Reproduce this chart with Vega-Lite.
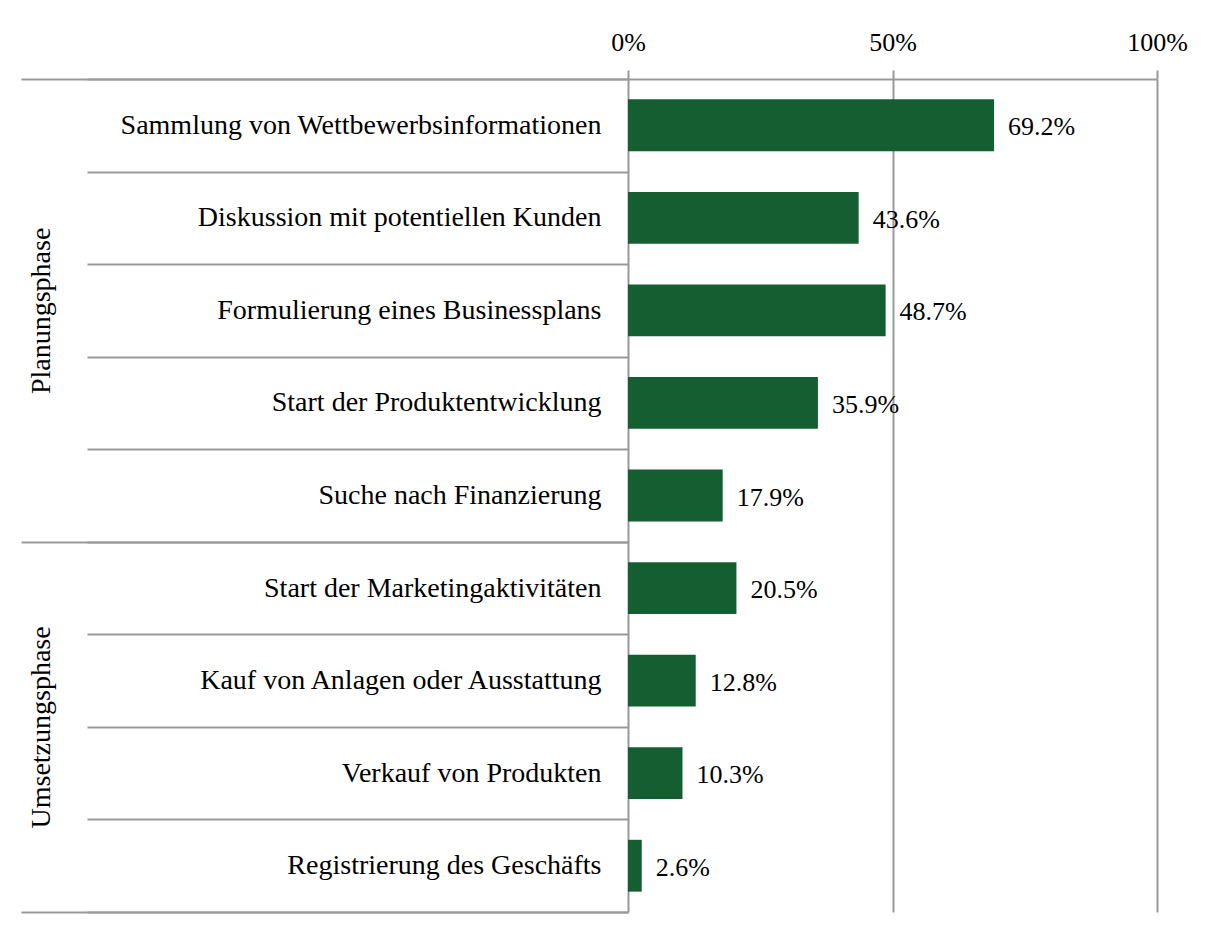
{
  "$schema": "https://vega.github.io/schema/vega-lite/v6.json",
  "width": 529,
  "height": 833,
  "autosize": {"type": "none"},
  "padding": {"left": 628, "top": 79, "right": 57, "bottom": 24},
  "background": "white",
  "config": {"view": {"stroke": null}, "font": "Liberation Serif"},
  "layer": [
    {
      "data": {
        "values": [
          {"item": "Sammlung von Wettbewerbsinformationen", "group": "Planungsphase", "value": 0.692},
          {"item": "Diskussion mit potentiellen Kunden", "group": "Planungsphase", "value": 0.436},
          {"item": "Formulierung eines Businessplans", "group": "Planungsphase", "value": 0.487},
          {"item": "Start der Produktentwicklung", "group": "Planungsphase", "value": 0.359},
          {"item": "Suche nach Finanzierung", "group": "Planungsphase", "value": 0.179},
          {"item": "Start der Marketingaktivitäten", "group": "Umsetzungsphase", "value": 0.205},
          {"item": "Kauf von Anlagen oder Ausstattung", "group": "Umsetzungsphase", "value": 0.128},
          {"item": "Verkauf von Produkten", "group": "Umsetzungsphase", "value": 0.103},
          {"item": "Registrierung des Geschäfts", "group": "Umsetzungsphase", "value": 0.026}
        ]
      },
      "layer": [
        {
          "mark": {"type": "bar", "height": {"band": 0.56}, "color": "#145e32"},
          "encoding": {
            "y": {
              "field": "item", "type": "nominal", "sort": null,
              "scale": {"paddingInner": 0, "paddingOuter": 0},
              "axis": {
                "title": null, "orient": "left", "domain": false, "grid": false,
                "ticks": true, "tickBand": "extent", "tickSize": 541,
                "tickColor": "#999999", "tickWidth": 2,
                "labelPadding": -514, "labelFontSize": 28, "labelFont": "Liberation Serif",
                "labelColor": "black", "labelLimit": 0
              }
            },
            "x": {
              "field": "value", "type": "quantitative",
              "scale": {"domain": [0, 1]},
              "axis": {
                "orient": "top", "title": null, "values": [0, 0.5, 1], "format": ".0%",
                "domain": true, "domainColor": "#999999", "domainWidth": 2,
                "ticks": true, "tickSize": 9, "tickColor": "#999999", "tickWidth": 2,
                "grid": true, "gridColor": "#999999", "gridWidth": 2,
                "labelPadding": 15, "labelFontSize": 26, "labelColor": "black",
                "labelFont": "Liberation Serif", "labelFlush": false
              }
            }
          }
        },
        {
          "mark": {"type": "text", "align": "left", "baseline": "middle", "dx": 14, "dy": 2, "fontSize": 26, "font": "Liberation Serif", "color": "black"},
          "encoding": {
            "y": {"field": "item", "type": "nominal", "sort": null},
            "x": {"field": "value", "type": "quantitative"},
            "text": {"field": "value", "type": "quantitative", "format": ".1%"}
          }
        }
      ]
    },
    {
      "data": {"values": [{"pos": 2.5, "name": "Planungsphase"}, {"pos": 7, "name": "Umsetzungsphase"}]},
      "mark": {"type": "point", "opacity": 0},
      "encoding": {
        "y": {
          "field": "pos", "type": "quantitative",
          "scale": {"domain": [0, 9], "reverse": true, "nice": false, "zero": false},
          "axis": {
            "title": null, "orient": "left", "values": [0, 2.5, 5, 7, 9],
            "domain": false, "grid": false, "ticks": true, "tickSize": 607,
            "tickColor": "#999999", "tickWidth": 2,
            "tickOpacity": {"condition": {"test": "datum.value == 2.5 || datum.value == 7", "value": 0}, "value": 1},
            "labelExpr": "datum.value == 2.5 ? 'Planungsphase' : datum.value == 7 ? 'Umsetzungsphase' : ''",
            "labelAngle": -90, "labelAlign": "center", "labelBaseline": "bottom",
            "labelPadding": -34, "labelFontSize": 28, "labelColor": "black",
            "labelFont": "Liberation Serif", "labelLimit": 0, "labelOverlap": false
          }
        }
      }
    }
  ],
  "resolve": {"scale": {"y": "independent"}, "axis": {"y": "independent"}}
}
